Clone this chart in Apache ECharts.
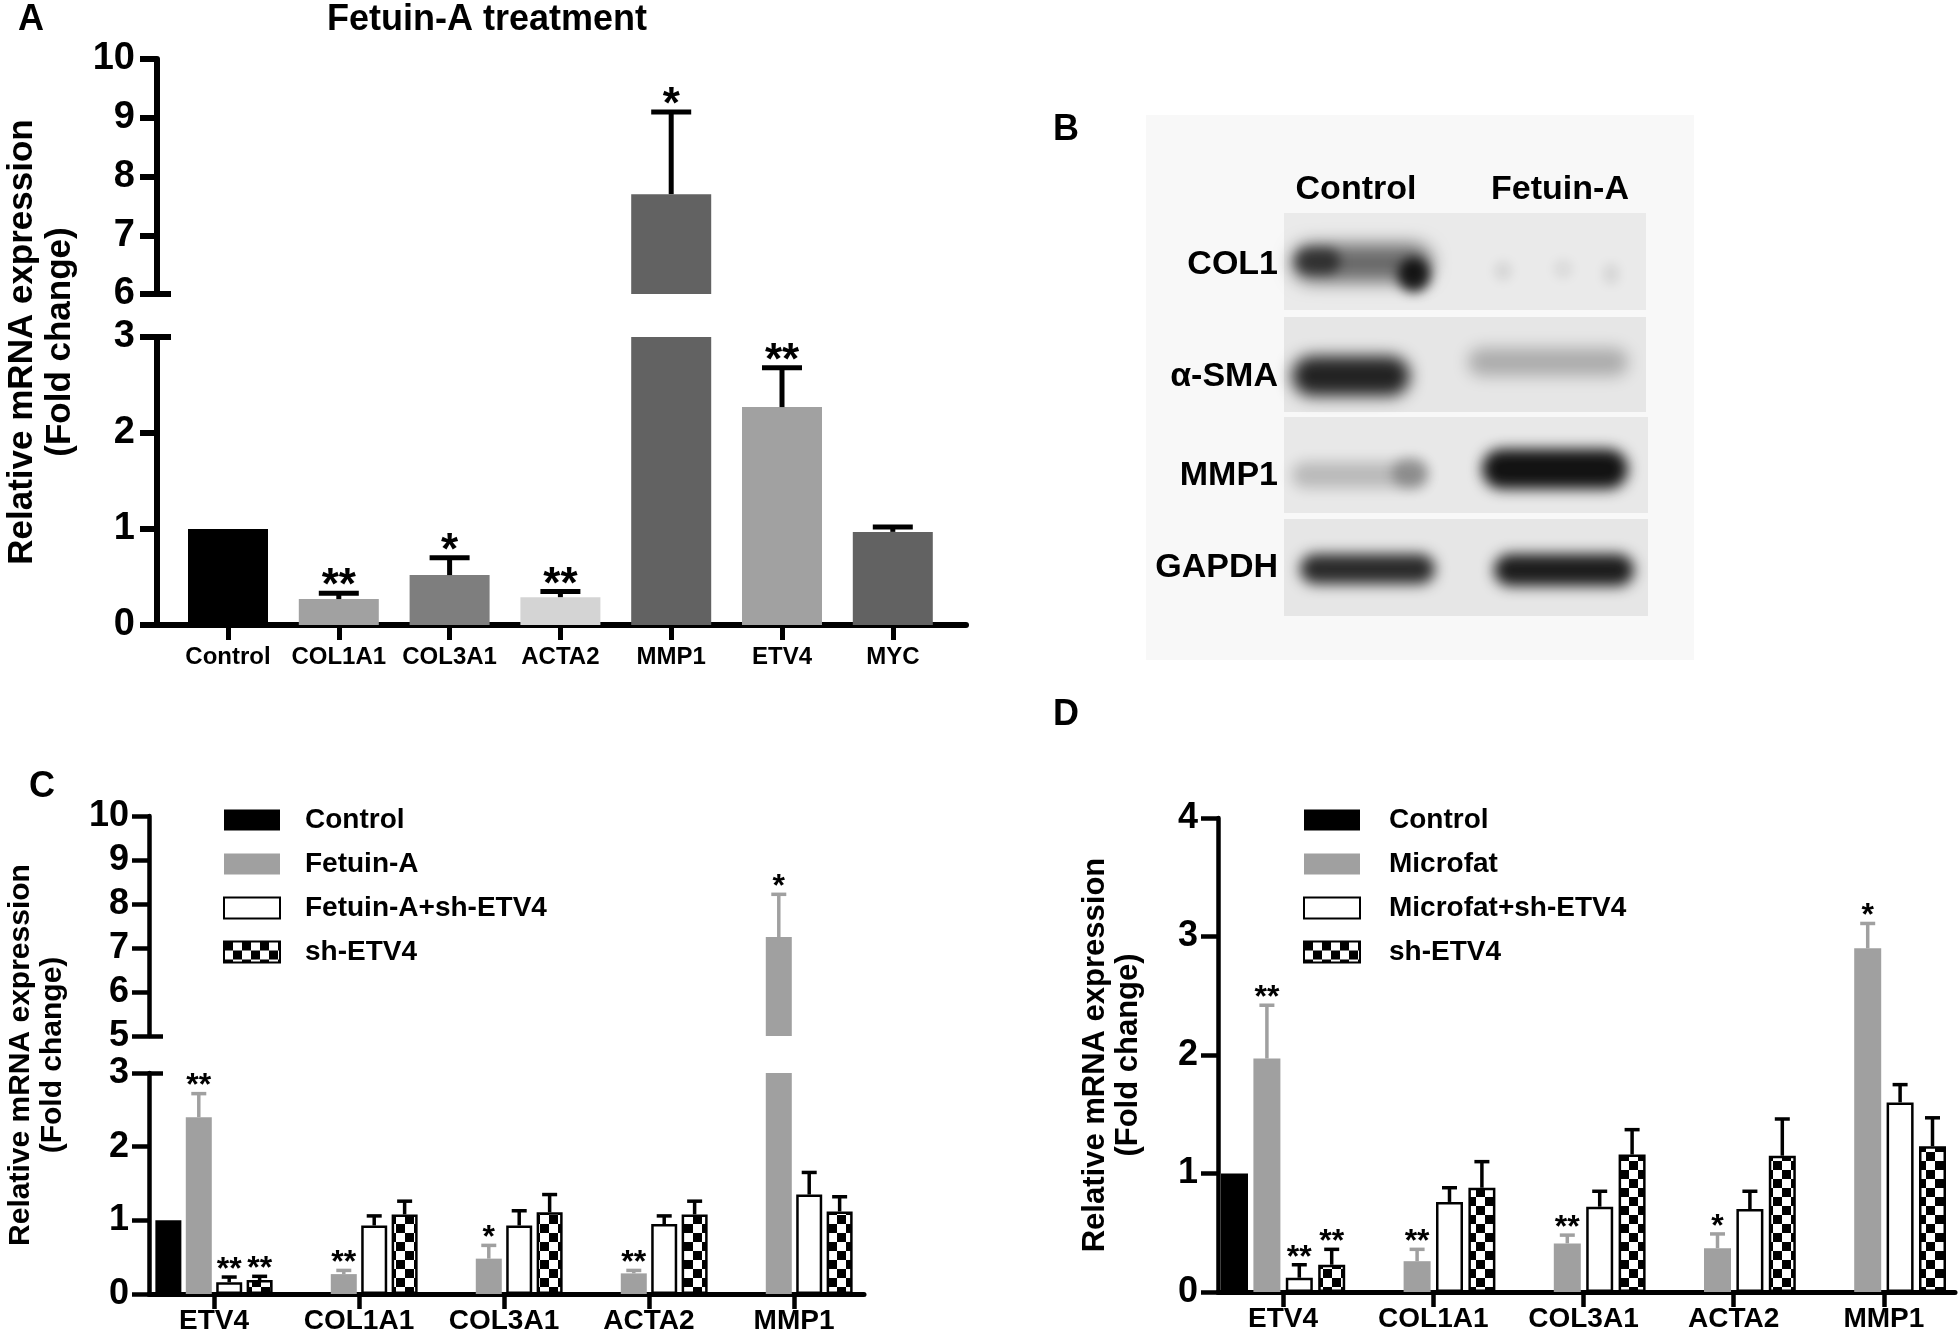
<!DOCTYPE html>
<html>
<head>
<meta charset="utf-8">
<title>Fetuin-A / ETV4 expression</title>
<script src="https://cdn.jsdelivr.net/npm/echarts@6/dist/echarts.min.js"></script>
<style>
  html, body { margin: 0; padding: 0; background: #fff; }
  #main { width: 1959px; height: 1338px; }
</style>
</head>
<body>
<div id="main"></div>
<script>
// ---- panel A : Fetuin-A treatment ----
var genesA = ['Control', 'COL1A1', 'COL3A1', 'ACTA2', 'MMP1', 'ETV4', 'MYC'];
var meanA = [1.00, 0.27, 0.52, 0.29, 7.70, 2.27, 0.97];
var sdA = [0, 0.06, 0.18, 0.06, 1.40, 0.41, 0.05];
var starA = ['', '**', '*', '**', '*', '**', ''];
var colorsA = ['#000000', '#a1a1a1', '#7e7e7e', '#d4d4d4', '#626262', '#a1a1a1', '#626262'];

// ---- panel C : Fetuin-A + sh-ETV4 ----
var genesC = ['ETV4', 'COL1A1', 'COL3A1', 'ACTA2', 'MMP1'];
var groupsC = ['Control', 'Fetuin-A', 'Fetuin-A+sh-ETV4', 'sh-ETV4'];
var ctrlC = [1.00, null, null, null, null];
var fetC = [2.40, 0.27, 0.48, 0.28, 7.25];
var fetSdC = [0.32, 0.05, 0.18, 0.04, 0.97];
var fetShC = [0.16, 0.93, 0.93, 0.95, 1.35];
var fetShSdC = [0.07, 0.13, 0.20, 0.11, 0.30];
var shC = [0.19, 1.08, 1.11, 1.08, 1.12];
var shSdC = [0.05, 0.18, 0.24, 0.18, 0.20];
var fetStarC = ['**', '**', '*', '**', '*'];
var fetShStarC = ['**', '', '', '', ''];
var shStarC = ['**', '', '', '', ''];

// ---- panel D : Microfat + sh-ETV4 ----
var genesD = ['ETV4', 'COL1A1', 'COL3A1', 'ACTA2', 'MMP1'];
var groupsD = ['Control', 'Microfat', 'Microfat+sh-ETV4', 'sh-ETV4'];
var ctrlD = [1.00, null, null, null, null];
var micD = [1.97, 0.26, 0.41, 0.37, 2.90];
var micSdD = [0.45, 0.10, 0.07, 0.12, 0.21];
var micShD = [0.12, 0.76, 0.72, 0.70, 1.60];
var micShSdD = [0.11, 0.12, 0.13, 0.15, 0.15];
var shD = [0.23, 0.88, 1.16, 1.15, 1.23];
var shSdD = [0.13, 0.22, 0.21, 0.31, 0.24];
var micStarD = ['**', '**', '**', '*', '*'];
var micShStarD = ['**', '', '', '', ''];
var shStarD = ['**', '', '', '', ''];

// axis ranges (broken axes use two grids)
var rangeALow = [0, 3], rangeAUp = [6, 10];
var rangeCLow = [0, 3], rangeCUp = [5, 10];
var rangeD = [0, 4];
var yName = 'Relative mRNA expression\n(Fold change)';

var FONT = 'Liberation Sans';
var GREY = '#a0a0a0';

function font(size, extra) {
  var o = { fontFamily: FONT, fontWeight: 'bold', fontSize: size, color: '#000' };
  for (var k in extra) o[k] = extra[k];
  return o;
}

// checker pattern for sh-ETV4
var checker = (function () {
  var c = document.createElement('canvas');
  c.width = 18; c.height = 18;
  var g = c.getContext('2d');
  g.fillStyle = '#fff'; g.fillRect(0, 0, 18, 18);
  g.fillStyle = '#000'; g.fillRect(0, 0, 9, 9); g.fillRect(9, 9, 9, 9);
  return c;
})();

var styles4 = [
  { color: '#000' },
  { color: GREY },
  { color: '#fff', borderColor: '#000', borderWidth: 2.5 },
  { color: { image: checker, repeat: 'repeat' }, borderColor: '#000', borderWidth: 2.5 }
];
var errColors4 = ['#000', GREY, '#000', '#000'];

function shiftFn(n, bw, gapPct) {
  var gap = bw * gapPct / 100;
  var total = n * bw + (n - 1) * gap;
  return function (k) { return -total / 2 + k * (bw + gap) + bw / 2; };
}

function groupBars(names, lists, xi, yi, bw, gapPct) {
  return lists.map(function (d, k) {
    return {
      type: 'bar', name: names[k], xAxisIndex: xi, yAxisIndex: yi, data: d,
      barWidth: bw, barGap: gapPct + '%', itemStyle: styles4[k], silent: true
    };
  });
}

function errItems(means, sds, stars, k) {
  var out = [];
  means.forEach(function (v, i) {
    if (v === null) return;
    out.push({ cat: i, k: k, v: v, top: v + sds[i], star: stars[i] });
  });
  return out;
}

function errBars(xi, yi, items, range, opt) {
  return {
    type: 'custom', xAxisIndex: xi, yAxisIndex: yi, silent: true, z: 5,
    data: items.map(function (it) { return [it.cat, it.v, it.top]; }),
    renderItem: function (params, api) {
      var it = items[params.dataIndex];
      if (it.top > range[1] || it.v < range[0]) return null;
      var p0 = api.coord([it.cat, it.v]);
      var p1 = api.coord([it.cat, it.top]);
      var x = p0[0] + opt.shift(it.k);
      var col = opt.colors[it.k];
      var kids = [];
      if (it.top > it.v) {
        kids.push({ type: 'line', shape: { x1: x, y1: p0[1], x2: x, y2: p1[1] }, style: { stroke: col, lineWidth: opt.lw } });
        kids.push({ type: 'line', shape: { x1: x - opt.cap / 2, y1: p1[1], x2: x + opt.cap / 2, y2: p1[1] }, style: { stroke: col, lineWidth: opt.lw } });
      }
      if (it.star) {
        kids.push({ type: 'text', x: x, y: p1[1] - opt.starOff,
          style: { text: it.star, fill: '#000', fontFamily: FONT, fontWeight: 'bold', fontSize: opt.starSize, align: 'center', verticalAlign: 'middle' } });
      }
      return { type: 'group', children: kids };
    }
  };
}

// ---- axes helpers ----
function helperX(gi, lw) {
  return { gridIndex: gi, type: 'value', min: 0, max: 1,
    axisLine: { show: true, onZero: false, lineStyle: { color: '#000', width: lw } },
    axisTick: { show: false }, axisLabel: { show: false }, splitLine: { show: false } };
}
function catX(gi, cats, shown, lw, size, margin) {
  return { gridIndex: gi, type: 'category', data: cats, show: shown,
    axisLine: { show: false },
    axisTick: { show: true, alignWithLabel: true, interval: 0, length: 15, lineStyle: { color: '#000', width: lw } },
    axisLabel: font(size, { margin: margin, interval: 0 }), splitLine: { show: false } };
}
function helperY(gi, size, gap) {
  return { gridIndex: gi, type: 'value', min: 0, max: 1, position: 'left',
    axisLine: { show: false }, axisTick: { show: false }, axisLabel: { show: false }, splitLine: { show: false },
    name: yName, nameLocation: 'middle', nameRotate: 90, nameGap: gap,
    nameTextStyle: font(size, { lineHeight: Math.round(size * 1.08) }) };
}
function valY(gi, r, off, lw, size, margin) {
  return { gridIndex: gi, type: 'value', min: r[0], max: r[1], interval: 1, offset: off, position: 'left',
    axisLine: { show: true, lineStyle: { color: '#000', width: lw } },
    axisTick: { show: true, length: 17, lineStyle: { color: '#000', width: lw } },
    axisLabel: font(size, { margin: margin }), splitLine: { show: false } };
}
function capY(gi, r, off, lw, at) {
  return { gridIndex: gi, type: 'value', min: r[0], max: r[1], interval: 1, offset: off, position: 'left',
    axisLine: { show: false },
    axisTick: { show: true, inside: true, length: 14, customValues: [at], lineStyle: { color: '#000', width: lw } },
    axisLabel: { show: false }, splitLine: { show: false } };
}

// ---- western blot (panel B) drawn as soft bands ----
function band(x, y, w, h, a, blur) {
  return { type: 'rect', silent: true,
    shape: { x: x - 4000, y: y, width: w, height: h, r: h / 2 },
    style: { fill: '#000', shadowColor: 'rgba(0,0,0,' + a + ')', shadowBlur: blur, shadowOffsetX: 4000 } };
}
function txt(x, y, s, size, align) {
  return { type: 'text', x: x, y: y, silent: true,
    style: { text: s, fontFamily: FONT, fontWeight: 'bold', fontSize: size, fill: '#000', align: align || 'center', verticalAlign: 'middle' } };
}

var blot = [
  { type: 'rect', silent: true, shape: { x: 1146, y: 115, width: 548, height: 545 }, style: { fill: '#f8f8f8' } },
  { type: 'rect', silent: true, shape: { x: 1284, y: 213, width: 362, height: 97 }, style: { fill: '#eaeaea' } },
  { type: 'rect', silent: true, shape: { x: 1284, y: 317, width: 362, height: 95 }, style: { fill: '#e6e6e6' } },
  { type: 'rect', silent: true, shape: { x: 1284, y: 417, width: 364, height: 96 }, style: { fill: '#e8e8e8' } },
  { type: 'rect', silent: true, shape: { x: 1284, y: 519, width: 364, height: 97 }, style: { fill: '#e6e6e6' } },
  // COL1
  band(1292, 244, 140, 38, 0.55, 18), band(1398, 258, 32, 34, 0.85, 12), band(1295, 248, 45, 26, 0.55, 12),
  band(1495, 262, 16, 18, 0.1, 12), band(1554, 260, 18, 18, 0.08, 12), band(1604, 264, 14, 20, 0.1, 12),
  // alpha-SMA
  band(1292, 356, 118, 40, 0.85, 16), band(1468, 348, 160, 28, 0.25, 16),
  // MMP1
  band(1292, 462, 135, 26, 0.2, 14), band(1392, 458, 36, 30, 0.25, 12), band(1482, 449, 146, 40, 0.92, 14),
  // GAPDH
  band(1300, 554, 135, 30, 0.82, 14), band(1494, 554, 140, 32, 0.88, 14),
  txt(1356, 190, 'Control', 34), txt(1560, 190, 'Fetuin-A', 34),
  txt(1278, 265, 'COL1', 34, 'right'), txt(1278, 377, 'α-SMA', 34, 'right'),
  txt(1278, 476, 'MMP1', 34, 'right'), txt(1278, 568, 'GAPDH', 34, 'right')
];

var labels = [
  txt(31, 20, 'A', 36), txt(487, 20, 'Fetuin-A treatment', 36),
  txt(1066, 130, 'B', 36), txt(42, 787, 'C', 36), txt(1066, 715, 'D', 36)
];

// ---- series ----
var shiftA = function () { return 0; };
var shiftC = shiftFn(4, 26, 17);
var shiftD = shiftFn(4, 27, 20);

var itemsA = errItems(meanA, sdA, starA, 0);
var zeros = [0, 0, 0, 0, 0];
var itemsC = [].concat(
  errItems(ctrlC, zeros, ['', '', '', '', ''], 0),
  errItems(fetC, fetSdC, fetStarC, 1),
  errItems(fetShC, fetShSdC, fetShStarC, 2),
  errItems(shC, shSdC, shStarC, 3));
var itemsD = [].concat(
  errItems(ctrlD, zeros, ['', '', '', '', ''], 0),
  errItems(micD, micSdD, micStarD, 1),
  errItems(micShD, micShSdD, micShStarD, 2),
  errItems(shD, shSdD, shStarD, 3));

var optA = { shift: shiftA, colors: ['#000'], lw: 5, cap: 40, starSize: 44, starOff: 6 };
var optC = { shift: shiftC, colors: errColors4, lw: 3.5, cap: 15, starSize: 32, starOff: 7 };
var optD = { shift: shiftD, colors: errColors4, lw: 3.5, cap: 15, starSize: 32, starOff: 7 };

var barsA = function (xi, yi) {
  return { type: 'bar', name: 'Fetuin-A treatment', xAxisIndex: xi, yAxisIndex: yi, data: meanA, barWidth: 80, silent: true,
    itemStyle: { color: function (p) { return colorsA[p.dataIndex]; } } };
};

var series = [].concat(
  barsA(1, 1), barsA(2, 2),
  errBars(1, 1, itemsA, rangeALow, optA), errBars(2, 2, itemsA, rangeAUp, optA),
  groupBars(groupsC, [ctrlC, fetC, fetShC, shC], 4, 4, 26, 17),
  groupBars(groupsC, [ctrlC, fetC, fetShC, shC], 5, 5, 26, 17),
  errBars(4, 4, itemsC, rangeCLow, optC), errBars(5, 5, itemsC, rangeCUp, optC),
  groupBars(groupsD, [ctrlD, micD, micShD, shD], 7, 7, 27, 20),
  errBars(7, 7, itemsD, rangeD, optD)
);

var legendBase = function (names, left, gap) {
  return { data: names, left: left, top: 806, orient: 'vertical', icon: 'rect', padding: 0,
    itemWidth: 56, itemHeight: 21, itemGap: 16, selectedMode: false,
    textStyle: font(28, { lineHeight: 27, padding: [0, 0, 0, gap] }) };
};

var chart = echarts.init(document.getElementById('main'));
chart.setOption({
  animation: false,
  backgroundColor: '#fff',
  grid: [
    { left: 157, top: 59, width: 809, height: 566 },        // helper A
    { left: 172.6, top: 337, width: 775.6, height: 288 },   // A lower
    { left: 172.6, top: 59, width: 775.6, height: 235 },    // A upper
    { left: 149, top: 816, width: 715, height: 478 },       // helper C
    { left: 141.5, top: 1073, width: 725, height: 221 },    // C lower
    { left: 141.5, top: 816, width: 725, height: 220 },     // C upper
    { left: 1218, top: 818, width: 737, height: 474 },      // helper D
    { left: 1208, top: 818, width: 760, height: 474 }       // D
  ],
  xAxis: [
    helperX(0, 6), catX(1, genesA, true, 5, 24, 20), catX(2, genesA, false, 5, 24, 20),
    helperX(3, 5), catX(4, genesC, true, 4.5, 28, 13), catX(5, genesC, false, 4.5, 28, 13),
    helperX(6, 5), catX(7, genesD, true, 4.5, 28, 13)
  ],
  yAxis: [
    helperY(0, 35, 78), valY(1, rangeALow, 15.6, 6, 38, 22), valY(2, rangeAUp, 15.6, 6, 38, 22),
    helperY(3, 30, 80), valY(4, rangeCLow, -7.5, 4.5, 36, 20), valY(5, rangeCUp, -7.5, 4.5, 36, 20),
    helperY(6, 31, 73), valY(7, rangeD, -10, 4.5, 36, 20),
    capY(1, rangeALow, 15.6, 6, 3), capY(2, rangeAUp, 15.6, 6, 6),
    capY(4, rangeCLow, -7.5, 4.5, 3), capY(5, rangeCUp, -7.5, 4.5, 5)
  ],
  legend: [legendBase(groupsC, 223, 20), legendBase(groupsD, 1303, 24)],
  graphic: blot.concat(labels),
  series: series
});
</script>
</body>
</html>
